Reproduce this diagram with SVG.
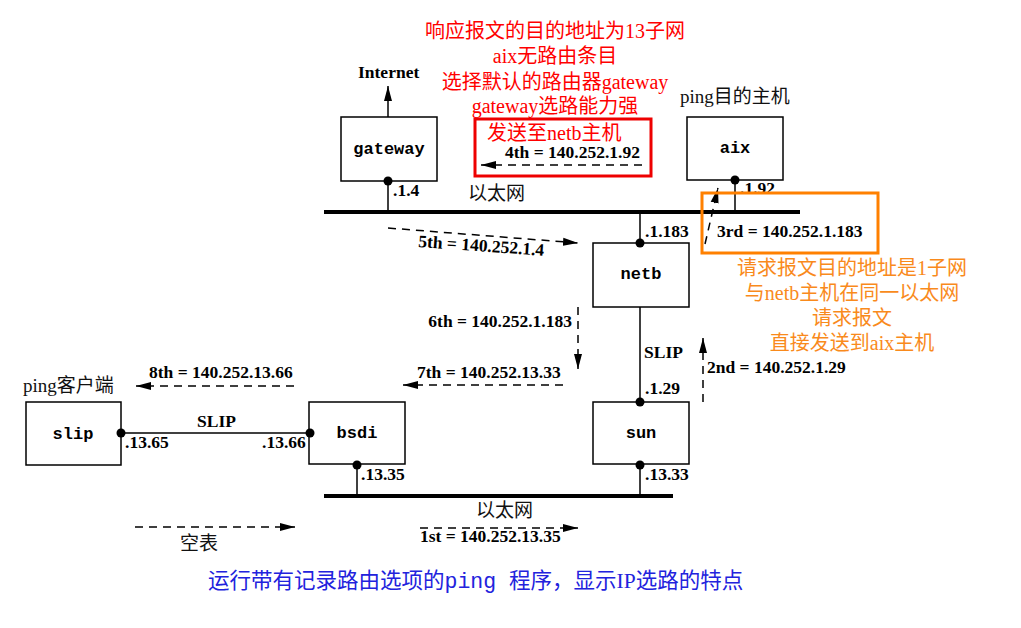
<svg xmlns="http://www.w3.org/2000/svg" width="1021" height="628" viewBox="0 0 1021 628">
<style>
.box{fill:#fff;stroke:#000;stroke-width:1.5}
.nl{font-family:"Liberation Mono",monospace;font-weight:bold;font-size:17px;text-anchor:middle;fill:#000}
.lb{font-family:"Liberation Serif",serif;font-weight:bold;font-size:17.5px;fill:#000}
.cn{font-family:"Liberation Serif","Noto Sans CJK SC",serif;font-size:19px;fill:#111}
.red{font-family:"Liberation Serif","Noto Sans CJK SC",serif;font-size:20px;fill:#f00}
.org{font-family:"Liberation Serif","Noto Sans CJK SC",serif;font-size:20px;fill:#f98a1c;text-anchor:middle}
.cap{font-family:"Liberation Serif","Noto Sans CJK SC",serif;font-size:21.5px;fill:#2222dd}
.ln{stroke:#000;stroke-width:1.5;fill:none}
.bus{stroke:#000;stroke-width:4;fill:none}
.dash{stroke:#000;stroke-width:1.5;fill:none;stroke-dasharray:8 6;marker-end:url(#ah)}
.dot{fill:#000}
</style>
<defs>
<marker id="ah" markerUnits="userSpaceOnUse" markerWidth="16" markerHeight="10" refX="15" refY="5" orient="auto">
<path d="M0,1 L15,5 L0,9 Z" fill="#000"/>
</marker>
</defs>
<rect width="1021" height="628" fill="#fff"/>

<g id="gateway"><rect class="box" x="341" y="117" width="96" height="64"/><text class="nl" x="389" y="154">gateway</text></g>
<g id="aix"><rect class="box" x="687" y="117" width="96" height="63"/><text class="nl" x="735" y="153">aix</text></g>
<g id="netb"><rect class="box" x="593" y="243" width="96" height="64"/><text class="nl" x="641" y="279">netb</text></g>
<g id="sun"><rect class="box" x="593" y="402" width="96" height="62"/><text class="nl" x="641" y="438">sun</text></g>
<g id="bsdi"><rect class="box" x="309" y="402" width="96" height="62"/><text class="nl" x="357" y="438">bsdi</text></g>
<g id="slip"><rect class="box" x="26" y="402" width="95" height="63"/><text class="nl" x="73" y="439">slip</text></g>

<g id="connectors">
<line class="ln" x1="388" y1="117" x2="388" y2="86" marker-end="url(#ah)"/>
<line class="bus" x1="324" y1="212" x2="800" y2="212"/>
<line class="bus" x1="324" y1="496" x2="673" y2="496"/>
<line class="ln" x1="388" y1="181" x2="388" y2="212"/>
<line class="ln" x1="735" y1="180" x2="735" y2="212"/>
<line class="ln" x1="640" y1="212" x2="640" y2="243"/>
<line class="ln" x1="640" y1="307" x2="640" y2="402"/>
<line class="ln" x1="640" y1="464" x2="640" y2="496"/>
<line class="ln" x1="357" y1="464" x2="357" y2="496"/>
<line class="ln" x1="121" y1="433" x2="310" y2="433"/>
<circle class="dot" cx="388" cy="181" r="4.5"/>
<circle class="dot" cx="735" cy="180" r="4.5"/>
<circle class="dot" cx="640" cy="243" r="4.5"/>
<circle class="dot" cx="640" cy="402" r="4.5"/>
<circle class="dot" cx="640" cy="465" r="4.5"/>
<circle class="dot" cx="357" cy="465" r="4.5"/>
<circle class="dot" cx="310" cy="433" r="4.5"/>
<circle class="dot" cx="121" cy="433" r="4.5"/>
<line class="dash" x1="420" y1="528" x2="578" y2="528"/>
<line class="dash" x1="703" y1="402" x2="703" y2="338"/>
<line class="dash" x1="705" y1="244" x2="718" y2="188"/>
<line class="dash" x1="642" y1="165" x2="481" y2="165"/>
<line class="dash" x1="388" y1="228" x2="578" y2="243"/>
<line class="dash" x1="578" y1="307" x2="578" y2="369"/>
<line class="dash" x1="563" y1="385" x2="403" y2="385"/>
<line class="dash" x1="294" y1="386" x2="136" y2="386"/>
<line class="dash" x1="135" y1="527" x2="295" y2="527"/>
</g>

<g id="labels">
<text class="lb" x="358" y="78">Internet</text>
<text class="lb" x="393" y="196">.1.4</text>
<text class="lb" x="740" y="194">.1.92</text>
<text class="lb" x="645" y="237">.1.183</text>
<text class="lb" x="644" y="358">SLIP</text>
<text class="lb" x="645" y="394">.1.29</text>
<text class="lb" x="645" y="480">.13.33</text>
<text class="lb" x="361" y="480">.13.35</text>
<text class="lb" x="197" y="427">SLIP</text>
<text class="lb" x="125" y="448">.13.65</text>
<text class="lb" x="262" y="448">.13.66</text>
<text class="lb" x="505" y="158">4th = 140.252.1.92</text>
<text class="lb" x="717" y="237">3rd = 140.252.1.183</text>
<text class="lb" x="707" y="373">2nd = 140.252.1.29</text>
<text class="lb" x="418" y="247" transform="rotate(4 418 247)">5th = 140.252.1.4</text>
<text class="lb" x="572" y="327" text-anchor="end">6th = 140.252.1.183</text>
<text class="lb" x="417" y="378">7th = 140.252.13.33</text>
<text class="lb" x="149" y="378">8th = 140.252.13.66</text>
<text class="lb" x="420" y="542">1st = 140.252.13.35</text>
<text class="cn" x="468" y="200">以太网</text>
<text class="cn" x="476" y="517">以太网</text>
<text class="cn" x="180" y="550">空表</text>
<text class="cn" x="680" y="103" font-size="19.5">ping目的主机</text>
<text class="cn" x="23" y="392" font-size="19.5">ping客户端</text>
</g>

<g id="red-note">
<text class="red" x="555" y="38" text-anchor="middle">响应报文的目的地址为13子网</text>
<text class="red" x="555" y="63" text-anchor="middle">aix无路由条目</text>
<text class="red" x="555" y="89" text-anchor="middle">选择默认的路由器gateway</text>
<text class="red" x="555" y="113" text-anchor="middle">gateway选路能力强</text>
<rect x="475" y="119" width="176" height="57" fill="none" stroke="#e00" stroke-width="3"/>
<text class="red" x="487" y="140">发送至netb主机</text>
</g>

<g id="orange-note">
<rect x="702" y="193" width="176" height="60" fill="none" stroke="#ff8000" stroke-width="3"/>
<text class="org" x="852" y="275">请求报文目的地址是1子网</text>
<text class="org" x="852" y="300">与netb主机在同一以太网</text>
<text class="org" x="852" y="325">请求报文</text>
<text class="org" x="852" y="350">直接发送到aix主机</text>
</g>

<text class="cap" x="208" y="588">运行带有记录路由选项的<tspan font-family="Liberation Mono, monospace">ping </tspan>程序，显示IP选路的特点</text>
</svg>
